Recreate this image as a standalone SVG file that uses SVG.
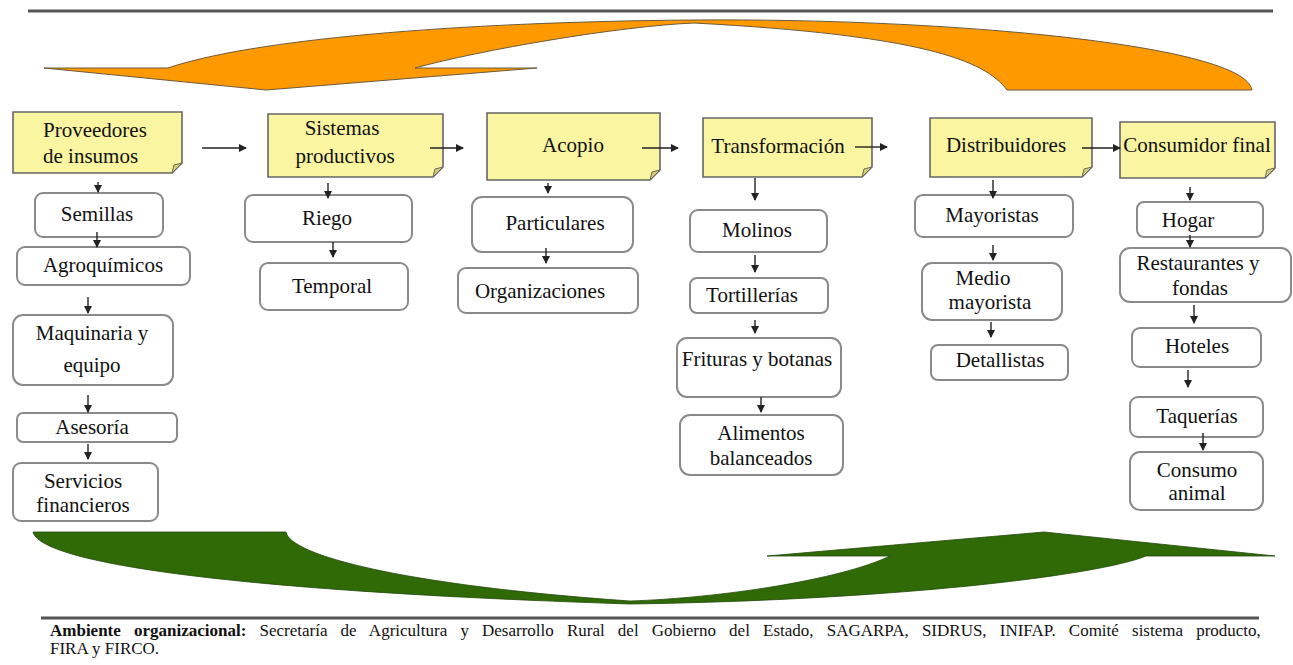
<svg xmlns="http://www.w3.org/2000/svg" width="1293" height="665" viewBox="0 0 1293 665">
<style>
.hdr{fill:#FAF5A0;stroke:#666;stroke-width:1.6}
.fold{fill:#D8D070;stroke:#666;stroke-width:1}
.box{fill:#fff;stroke:#8a8a8a;stroke-width:2}
.t{font-family:"Liberation Serif","Times New Roman",serif;font-size:21px;fill:#111}
.c{text-anchor:middle}
.ln{stroke:#222;stroke-width:1.4;fill:none;marker-end:url(#ah)}
.rule{stroke:#555;stroke-width:3}
.foot{font-family:"Liberation Serif","Times New Roman",serif;font-size:17px;fill:#111}
</style>
<defs>
<marker id="ah" markerUnits="userSpaceOnUse" markerWidth="8" markerHeight="8" refX="7" refY="4" orient="auto">
<path d="M0,0 L8,4 L0,8 z" fill="#222"/>
</marker>
</defs>
<rect width="1293" height="665" fill="#fff"/>
<line class="rule" x1="28" y1="11" x2="1273" y2="11"/>
<g id="orange-arrow">
<path d="M44,68 L168,68 C250,40 450,22 694,20 C950,18 1245,45 1252,90 L1007,90 C985,60 920,35 694,23 C620,26 480,50 415,68 L537,68 L266,90 Z" fill="#FF9900" stroke="#6b5a3a" stroke-width="1"/>
</g>
<g id="green-arrow">
<path d="M33,532 L286,532 C290,555 400,585 630,601 C720,598 840,580 890,556 L767,556 L1044,532 L1275,556 L1146,556 C1100,575 900,600 630,604 C200,590 40,560 33,532 Z" fill="#2F6A06" stroke="#24480c" stroke-width="0.8"/>
</g>

<g id="n-proveedores">
<path class="hdr" d="M13,112 H182 V163 L172,173 H13 Z"/><path class="fold" d="M182,163 L174,165 L172,173 Z"/>
<text class="t" x="43" y="137">Proveedores</text><text class="t" x="43" y="163">de insumos</text>
</g>
<g id="n-sistemas">
<path class="hdr" d="M268,114 H443 V167 L433,177 H268 Z"/><path class="fold" d="M443,167 L435,169 L433,177 Z"/>
<text class="t c" x="342" y="135">Sistemas</text><text class="t c" x="345" y="163">productivos</text>
</g>
<g id="n-acopio">
<path class="hdr" d="M487,113 H660 V170 L650,180 H487 Z"/><path class="fold" d="M660,170 L652,172 L650,180 Z"/>
<text class="t c" x="573" y="152">Acopio</text>
</g>
<g id="n-transformacion">
<path class="hdr" d="M703,118 H872 V167 L862,177 H703 Z"/><path class="fold" d="M872,167 L864,169 L862,177 Z"/>
<text class="t c" x="778" y="153">Transformación</text>
</g>
<g id="n-distribuidores">
<path class="hdr" d="M930,118 H1092 V167 L1082,177 H930 Z"/><path class="fold" d="M1092,167 L1084,169 L1082,177 Z"/>
<text class="t c" x="1006" y="152">Distribuidores</text>
</g>
<g id="n-consumidor">
<path class="hdr" d="M1120,122 H1275 V168 L1265,178 H1120 Z"/><path class="fold" d="M1275,168 L1267,170 L1265,178 Z"/>
<text class="t c" x="1197" y="152">Consumidor final</text>
</g>

<g id="n-semillas"><rect class="box" x="35" y="193" width="128" height="44" rx="8"/><text class="t c" x="97" y="221">Semillas</text></g>
<g id="n-agroquimicos"><rect class="box" x="17" y="247" width="173" height="38" rx="8"/><text class="t c" x="103" y="272">Agroquímicos</text></g>
<g id="n-maquinaria"><rect class="box" x="13" y="315" width="160" height="70" rx="10"/><text class="t c" x="92" y="340">Maquinaria y</text><text class="t c" x="92" y="372">equipo</text></g>
<g id="n-asesoria"><rect class="box" x="17" y="413" width="160" height="29" rx="6"/><text class="t c" x="92" y="434">Asesoría</text></g>
<g id="n-servicios"><rect class="box" x="13" y="463" width="145" height="58" rx="8"/><text class="t c" x="83" y="488">Servicios</text><text class="t c" x="83" y="512">financieros</text></g>

<g id="n-riego"><rect class="box" x="245" y="195" width="167" height="47" rx="8"/><text class="t c" x="327" y="225">Riego</text></g>
<g id="n-temporal"><rect class="box" x="260" y="263" width="148" height="47" rx="8"/><text class="t c" x="332" y="293">Temporal</text></g>

<g id="n-particulares"><rect class="box" x="472" y="197" width="161" height="55" rx="10"/><text class="t c" x="555" y="230">Particulares</text></g>
<g id="n-organizaciones"><rect class="box" x="458" y="268" width="180" height="45" rx="8"/><text class="t c" x="540" y="298">Organizaciones</text></g>

<g id="n-molinos"><rect class="box" x="690" y="210" width="137" height="42" rx="8"/><text class="t c" x="757" y="237">Molinos</text></g>
<g id="n-tortillerias"><rect class="box" x="690" y="278" width="138" height="35" rx="7"/><text class="t c" x="752" y="302">Tortillerías</text></g>
<g id="n-frituras"><rect class="box" x="677" y="338" width="164" height="59" rx="10"/><text class="t c" x="757" y="366">Frituras y botanas</text></g>
<g id="n-alimentos"><rect class="box" x="680" y="415" width="163" height="60" rx="10"/><text class="t c" x="761" y="440">Alimentos</text><text class="t c" x="761" y="465">balanceados</text></g>

<g id="n-mayoristas"><rect class="box" x="915" y="195" width="158" height="42" rx="8"/><text class="t c" x="992" y="222">Mayoristas</text></g>
<g id="n-medio"><rect class="box" x="922" y="263" width="140" height="57" rx="10"/><text class="t c" x="983" y="285">Medio</text><text class="t c" x="990" y="309">mayorista</text></g>
<g id="n-detallistas"><rect class="box" x="931" y="345" width="137" height="35" rx="7"/><text class="t c" x="1000" y="367">Detallistas</text></g>

<g id="n-hogar"><rect class="box" x="1137" y="202" width="126" height="35" rx="7"/><text class="t c" x="1188" y="227">Hogar</text></g>
<g id="n-restaurantes"><rect class="box" x="1120" y="248" width="171" height="54" rx="10"/><text class="t c" x="1198" y="270">Restaurantes y</text><text class="t c" x="1200" y="295">fondas</text></g>
<g id="n-hoteles"><rect class="box" x="1132" y="328" width="129" height="39" rx="8"/><text class="t c" x="1197" y="353">Hoteles</text></g>
<g id="n-taquerias"><rect class="box" x="1130" y="397" width="133" height="40" rx="8"/><text class="t c" x="1197" y="423">Taquerías</text></g>
<g id="n-consumo"><rect class="box" x="1130" y="452" width="133" height="58" rx="10"/><text class="t c" x="1197" y="477">Consumo</text><text class="t c" x="1197" y="500">animal</text></g>

<g id="connectors">
<line class="ln" x1="202" y1="148" x2="246" y2="148"/>
<line class="ln" x1="430" y1="148" x2="463" y2="148"/>
<line class="ln" x1="642" y1="148" x2="678" y2="148"/>
<line class="ln" x1="855" y1="147" x2="887" y2="147"/>
<line class="ln" x1="1082" y1="148" x2="1120" y2="148"/>
<line class="ln" x1="98" y1="182" x2="98" y2="192"/>
<line class="ln" x1="97" y1="232" x2="97" y2="247"/>
<line class="ln" x1="88" y1="297" x2="88" y2="313"/>
<line class="ln" x1="88" y1="395" x2="88" y2="412"/>
<line class="ln" x1="88" y1="444" x2="88" y2="459"/>
<line class="ln" x1="328" y1="183" x2="328" y2="198"/>
<line class="ln" x1="333" y1="242" x2="333" y2="257"/>
<line class="ln" x1="548" y1="183" x2="548" y2="193"/>
<line class="ln" x1="546" y1="248" x2="546" y2="263"/>
<line class="ln" x1="755" y1="178" x2="755" y2="200"/>
<line class="ln" x1="755" y1="255" x2="755" y2="272"/>
<line class="ln" x1="755" y1="320" x2="755" y2="333"/>
<line class="ln" x1="761" y1="397" x2="761" y2="412"/>
<line class="ln" x1="993" y1="180" x2="993" y2="198"/>
<line class="ln" x1="993" y1="245" x2="993" y2="260"/>
<line class="ln" x1="991" y1="322" x2="991" y2="337"/>
<line class="ln" x1="1190" y1="187" x2="1190" y2="200"/>
<line class="ln" x1="1190" y1="235" x2="1190" y2="247"/>
<line class="ln" x1="1194" y1="305" x2="1194" y2="323"/>
<line class="ln" x1="1188" y1="370" x2="1188" y2="387"/>
<line class="ln" x1="1203" y1="433" x2="1203" y2="450"/>
</g>

<line class="rule" x1="41" y1="618" x2="1259" y2="618"/>
<g id="footer">
<text class="foot" x="50" y="636" word-spacing="8.9"><tspan font-weight="bold">Ambiente organizacional:</tspan> Secretaría de Agricultura y Desarrollo Rural del Gobierno del Estado, SAGARPA, SIDRUS, INIFAP. Comité sistema producto,</text>
<text class="foot" x="50" y="654">FIRA y FIRCO.</text>
</g>
</svg>
